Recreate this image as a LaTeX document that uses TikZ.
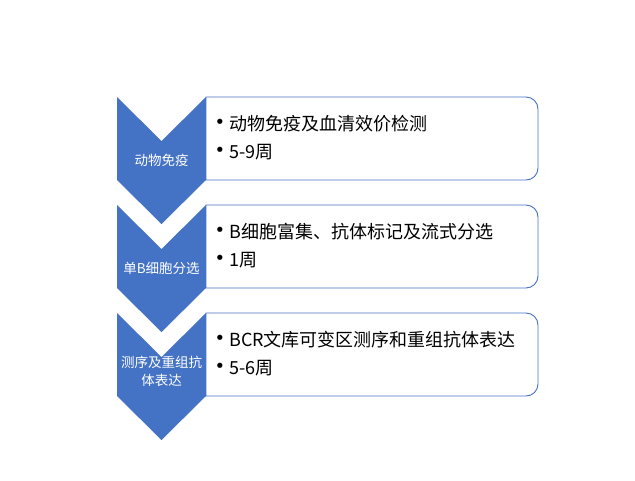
\documentclass[tikz,border=0pt]{standalone}
\usepackage{fontspec}
\setmainfont{Noto Sans CJK SC}
\newfontfamily\dotfont{DejaVu Sans}
\usepackage{tikz}

\definecolor{stageblue}{HTML}{4472C4}

\begin{document}
\begin{tikzpicture}[x=1pt,y=1pt]
\tikzstyle{stage}=[fill=stageblue,draw=none]
\tikzstyle{panel}=[draw=stageblue,line width=0.9pt,fill=white]
\tikzstyle{stagelabel}=[text=white,font=\fontsize{13.5}{18}\selectfont,align=center,inner sep=0pt]
\tikzstyle{item}=[anchor=west,font=\fontsize{18}{22}\selectfont,inner sep=0pt]
\tikzstyle{dot}=[font=\dotfont\fontsize{18}{20}\selectfont,inner sep=0pt]
\useasboundingbox (0,0) rectangle (635,-480);

% stage 1
\draw[stage] (117,-97) -- (161.5,-141) -- (206,-97) -- (206,-180) -- (161.5,-224) -- (117,-180) -- cycle;
\draw[panel] (206,-97) -- (526,-97) arc[start angle=90,end angle=0,radius=12] -- (538,-168) arc[start angle=0,end angle=-90,radius=12] -- (206,-180) -- cycle;
\node[stagelabel] (S1) at (161.5,-160) {动物免疫};
\node[dot] (D11) at (220,-124) {•};
\node[item] (T11) at (229,-124) {动物免疫及血清效价检测};
\node[dot] (D12) at (220,-152) {•};
\node[item] (T12) at (229,-152) {5-9周};

% stage 2
\draw[stage] (117,-205) -- (161.5,-249) -- (206,-205) -- (206,-288) -- (161.5,-332) -- (117,-288) -- cycle;
\draw[panel] (206,-205) -- (526,-205) arc[start angle=90,end angle=0,radius=12] -- (538,-276) arc[start angle=0,end angle=-90,radius=12] -- (206,-288) -- cycle;
\node[stagelabel] (S2) at (161.5,-268) {单B细胞分选};
\node[dot] (D21) at (220,-232) {•};
\node[item] (T21) at (229,-232) {B细胞富集、抗体标记及流式分选};
\node[dot] (D22) at (220,-260) {•};
\node[item] (T22) at (229,-260) {1周};

% stage 3
\draw[stage] (117,-313) -- (161.5,-357) -- (206,-313) -- (206,-396) -- (161.5,-440) -- (117,-396) -- cycle;
\draw[panel] (206,-313) -- (526,-313) arc[start angle=90,end angle=0,radius=12] -- (538,-384) arc[start angle=0,end angle=-90,radius=12] -- (206,-396) -- cycle;
\node[stagelabel] (S3) at (161.5,-371) {测序及重组抗\\体表达};
\node[dot] (D31) at (220,-340) {•};
\node[item] (T31) at (229,-340) {BCR文库可变区测序和重组抗体表达};
\node[dot] (D32) at (220,-368) {•};
\node[item] (T32) at (229,-368) {5-6周};

\end{tikzpicture}
\end{document}
